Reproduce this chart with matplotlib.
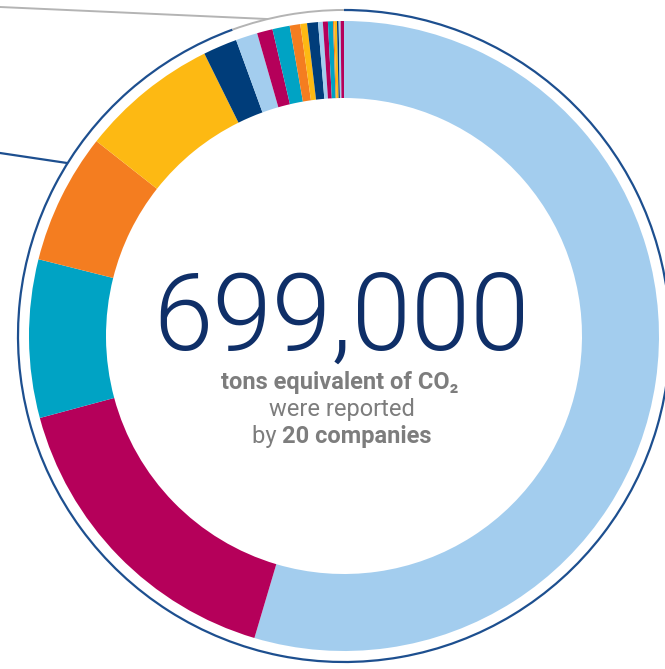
import matplotlib
matplotlib.use("Agg")
import matplotlib.pyplot as plt
from matplotlib.patches import Arc

# emissions per company, thousand tons CO2e
emissions = [381.7, 113.4, 56.7, 46.8, 49.5, 12.2, 7.8, 5.6, 6.2, 3.8,
             2.4, 3.9, 1.7, 1.8, 1.8, 0.4, 1.0, 0.6, 0.7, 1.2]
palette = ["#a3cdee", "#b5005a", "#00a3c4", "#f47d20", "#fdb913", "#003d7a"]
colors = [palette[i % len(palette)] for i in range(len(emissions))]

total_label = "699,000"
sub_line1 = "tons equivalent of CO\u2082"
sub_line2 = "were reported"
sub_line3a = "by"
sub_line3b = "20 companies"

W, H = 665, 669
fig = plt.figure(figsize=(W / 100, H / 100), dpi=100)
ax = fig.add_axes([0, 0, 1, 1])

cx, cy = 344, H - 336
ax.pie(emissions, colors=colors, startangle=90, counterclock=False,
       radius=315, center=(cx, cy),
       wedgeprops=dict(width=77, linewidth=0))

# thin outline ring, grey where the callout meets it
ax.add_patch(Arc((cx, cy), 652, 652, theta1=110, theta2=450,
                 color="#1d4f8f", lw=1.6))
ax.add_patch(Arc((cx, cy), 652, 652, theta1=90, theta2=110,
                 color="#b4b4b4", lw=1.4))
ax.plot([0, 267], [H - 7, H - 19], color="#b4b4b4", lw=1.4)
ax.plot([0, 67], [H - 153, H - 163], color="#1d4f8f", lw=1.6)

fnt = ["Roboto", "DejaVu Sans"]
ax.text(341, H - 350, total_label, ha="center", va="baseline",
        fontsize=77, fontweight=300, color="#0f2f68", family=fnt)
ax.text(340, H - 389, sub_line1, ha="center", va="baseline",
        fontsize=17, fontweight="bold", color="#7d7d7d", family=fnt)
ax.text(342, H - 416, sub_line2, ha="center", va="baseline",
        fontsize=17, color="#7d7d7d", family=fnt)

# last line mixes weights: measure both parts, then center them together
fig.canvas.draw()
r = fig.canvas.get_renderer()
ta = ax.text(0, H - 443, sub_line3a + " ", ha="left", va="baseline",
             fontsize=17, color="#7d7d7d", family=fnt)
tb = ax.text(0, H - 443, sub_line3b, ha="left", va="baseline",
             fontsize=17, fontweight="bold", color="#7d7d7d", family=fnt)
wa = ta.get_window_extent(r).width
wb = tb.get_window_extent(r).width
x0 = 342 - (wa + wb) / 2
ta.set_x(x0)
tb.set_x(x0 + wa)

ax.set_xlim(0, W)
ax.set_ylim(0, H)
ax.set_aspect("auto")
ax.axis("off")

fig.savefig("out.png", dpi=100)
